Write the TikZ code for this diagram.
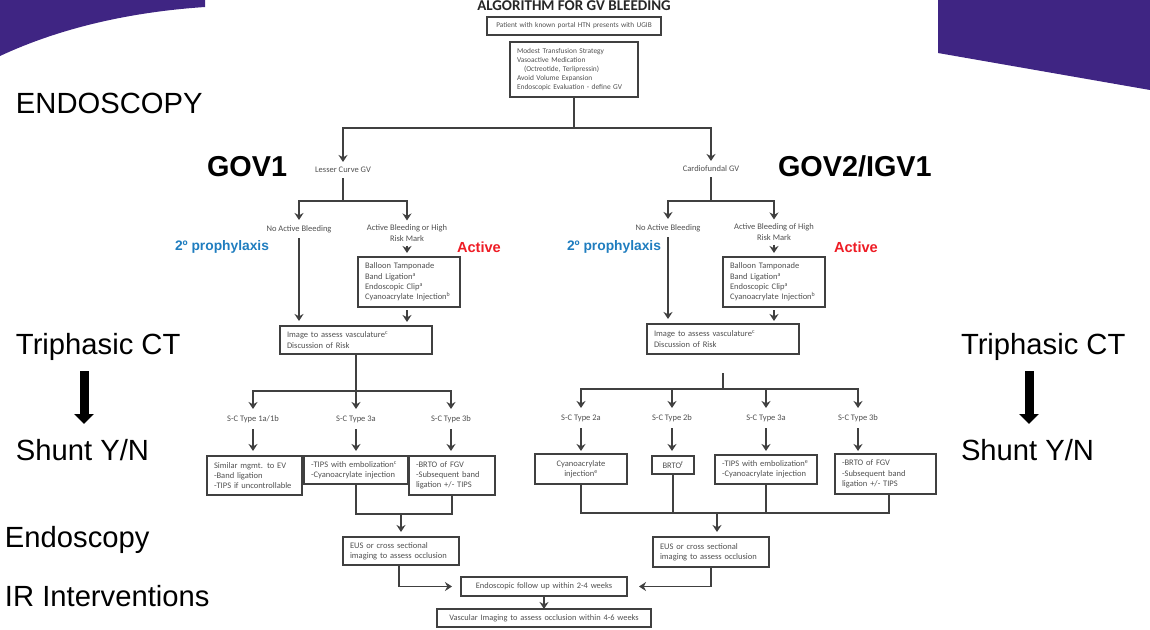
\documentclass[tikz,border=0pt]{standalone}
\usepackage{fontspec}
\setmainfont{Carlito}
\newfontfamily\slidefont{Liberation Sans}
\usetikzlibrary{arrows.meta}
\definecolor{purp}{HTML}{3F2583}
\definecolor{ink}{HTML}{505050}
\definecolor{wirec}{HTML}{404040}
\definecolor{bluet}{HTML}{1F7DBF}
\definecolor{redt}{HTML}{EE1C25}
\tikzset{
  bx/.style 2 args={draw=wirec,line width=1.3pt,outer sep=0pt,inner xsep=7pt,inner ysep=0pt,
    minimum width=#1pt,minimum height=#2pt,text width=\dimexpr#1pt-14pt\relax,align=left,
    font=\fontsize{8.5}{10.3}\selectfont,text=ink},
  cbx/.style 2 args={bx={#1}{#2},align=center},
  lb/.style={outer sep=0pt,inner sep=0pt,align=center,minimum height=#1pt,
    font=\fontsize{8.5}{10.3}\selectfont,text=ink},
  lb/.default=18,
  wire/.style={draw=wirec,line width=1.3pt},
  arr/.style={wire,-{Stealth[width=9pt,length=7pt]}},
  big/.style={outer sep=0pt,inner sep=0pt,anchor=west,font=\slidefont\fontsize{29.2}{32}\selectfont,text=black},
  bigb/.style={outer sep=0pt,inner sep=0pt,anchor=west,font=\slidefont\bfseries\fontsize{28.8}{32}\selectfont,text=black},
  tag/.style={outer sep=0pt,inner sep=0pt,anchor=west,font=\slidefont\bfseries\fontsize{13.8}{15}\selectfont},
  tagred/.style={outer sep=0pt,inner sep=0pt,anchor=west,text=redt,font=\slidefont\bfseries\fontsize{14.6}{16}\selectfont},
  thick arrow/.style={draw=black,line width=9pt,-{Triangle[width=19pt,length=10pt]}}
}
\begin{document}
\begin{tikzpicture}[x=1pt,y=-1pt]
\useasboundingbox (0,0) rectangle (1150,629);
% banner shapes
\fill[purp] (0,0) -- (205,0) -- (205,7) .. controls (130,12) and (60,28) .. (0,56) -- cycle;
\fill[purp] (938,0) -- (1150,0) -- (1150,90) -- (938,53) -- cycle;
% slide labels
\node[big] (endo) at (16,103) {ENDOSCOPY};
\node[bigb] (gov1) at (207,167) {GOV1};
\node[bigb] (gov2) at (778,166) {GOV2/IGV1};
\node[big] (triL) at (16,347) {Triphasic CT};
\node[big] (triR) at (961,347) {Triphasic CT};
\node[big] (shuL) at (16,450) {Shunt Y/N};
\node[big] (shuR) at (961,450) {Shunt Y/N};
\node[big] (endo2) at (5,540) {Endoscopy};
\node[big] (irint) at (5,596) {IR Interventions};
\node[tag,text=bluet] (proL) at (175,247) {2º prophylaxis};
\node[tag,text=bluet] (proR) at (567,247) {2º prophylaxis};
\node[tagred] (actL) at (457,247) {Active};
\node[tagred] (actR) at (834,247) {Active};
\coordinate (thLa) at (84,371); \coordinate (thLb) at (84,424);
\coordinate (thRa) at (1029,371); \coordinate (thRb) at (1029,424);
\draw[thick arrow] (thLa) -- (thLb);
\draw[thick arrow] (thRa) -- (thRb);
% title and top
\node[outer sep=0pt,inner sep=0pt,font=\bfseries\fontsize{15}{16}\selectfont,text=black!85] (title) at (574,6) {ALGORITHM FOR GV BLEEDING};
\node[cbx={174}{18},font=\fontsize{7.3}{10.3}\selectfont] (pat) at (574,26) {Patient with known portal HTN presents with UGIB};
\node[bx={128}{55},font=\fontsize{7.4}{9}\selectfont] (init) at (574,69.5) {Modest Transfusion Strategy\\Vasoactive Medication\\\hspace*{7pt}(Octreotide, Terlipressin)\\Avoid Volume Expansion\\Endoscopic Evaluation - define GV};
\node[lb=16] (lesser) at (343,170) {Lesser Curve GV};
\node[lb=16] (cardio) at (711,169) {Cardiofundal GV};
% left branch
\node[lb=18] (noL) at (299,229) {No Active Bleeding};
\node[lb=25] (acL) at (407,233) {Active Bleeding or High\\Risk Mark};
\node[bx={102}{50}] (trtL) at (409,282) {Balloon Tamponade\\Band Ligation\textsuperscript{a}\\Endoscopic Clip\textsuperscript{a}\\Cyanoacrylate Injection\textsuperscript{b}};
\node[bx={152}{28}] (imgL) at (356,340) {Image to assess vasculature\textsuperscript{c}\\Discussion of Risk};
\node[lb=20] (sL1) at (253,419) {S-C Type 1a/1b};
\node[lb=20] (sL2) at (356,419) {S-C Type 3a};
\node[lb=20] (sL3) at (451,419) {S-C Type 3b};
\node[bx={95}{39}] (mL1) at (254.5,475.5) {Similar mgmt. to EV\\-Band ligation\\-TIPS if uncontrollable};
\node[bx={104}{28}] (mL2) at (356,470) {-TIPS with embolization\textsuperscript{c}\\-Cyanoacrylate injection};
\node[bx={86}{39}] (mL3) at (452,475.5) {-BRTO of FGV\\-Subsequent band\\ligation +/- TIPS};
\node[bx={116}{28}] (eusL) at (401,551) {EUS or cross sectional\\imaging to assess occlusion};
% right branch
\node[lb=18] (noR) at (668,228) {No Active Bleeding};
\node[lb=25] (acR) at (774,232) {Active Bleeding of High\\Risk Mark};
\node[bx={102}{50}] (trtR) at (774,282) {Balloon Tamponade\\Band Ligation\textsuperscript{a}\\Endoscopic Clip\textsuperscript{a}\\Cyanoacrylate Injection\textsuperscript{b}};
\node[bx={152}{30}] (imgR) at (723,339) {Image to assess vasculature\textsuperscript{c}\\Discussion of Risk};
\node[lb=20] (sR1) at (581,418) {S-C Type 2a};
\node[lb=20] (sR2) at (672,418) {S-C Type 2b};
\node[lb=20] (sR3) at (766,418) {S-C Type 3a};
\node[lb=20] (sR4) at (858,418) {S-C Type 3b};
\node[cbx={92}{30}] (mR1) at (581,469) {Cyanoacrylate\\injection\textsuperscript{e}};
\node[cbx={42}{18}] (mR2) at (673,465) {BRTO\textsuperscript{f}};
\node[bx={102}{29}] (mR3) at (766,469.5) {-TIPS with embolization\textsuperscript{e}\\-Cyanoacrylate injection};
\node[bx={101}{40}] (mR4) at (885.5,474) {-BRTO of FGV\\-Subsequent band\\ligation +/- TIPS};
\node[bx={116}{30}] (eusR) at (711,552) {EUS or cross sectional\\imaging to assess occlusion};
% bottom
\node[cbx={166}{19},font=\fontsize{8.4}{10.3}\selectfont] (follow) at (544,586.5) {Endoscopic follow up within 2-4 weeks};
\node[cbx={214}{18},font=\fontsize{8.4}{10.3}\selectfont] (vasc) at (544,618) {Vascular Imaging to assess occlusion within 4-6 weeks};
% junctions
\coordinate (busTop) at (574,128);
\coordinate (busGL) at (343,201);
\coordinate (busGR) at (711,201);
\coordinate (busSL) at (356,391);
\coordinate (stubR) at (723,373);
\coordinate (busSR) at (723,389);
\coordinate (mergeL) at (401,514);
\coordinate (mergeR) at (717,513);
% connectors
\draw[wire] (init.south) -- (busTop);
\draw[arr] (busTop) -| (lesser.north);
\draw[arr] (busTop) -| (cardio.north);
\draw[wire] (lesser.south) -- (busGL);
\draw[arr] (busGL) -| (noL.north);
\draw[arr] (busGL) -| (acL.north);
\draw[wire] (cardio.south) -- (busGR);
\draw[arr] (busGR) -| (noR.north);
\draw[arr] (busGR) -| (acR.north);
\draw[arr,shorten >=5pt] (noL.south) -- (noL.south |- imgL.north);
\draw[arr,shorten >=5pt] (noR.south) -- (noR.south |- imgR.north);
\draw[arr,shorten >=4pt] (acL.south) -- (acL.south |- trtL.north);
\draw[arr,shorten >=4pt] (acR.south) -- (acR.south |- trtR.north);
\draw[arr,shorten <=3pt,shorten >=4pt] (acL |- trtL.south) -- (acL |- imgL.north);
\draw[arr,shorten <=3pt,shorten >=3pt] (acR |- trtR.south) -- (acR |- imgR.north);
\draw[wire] (imgL.south) -- (busSL);
\draw[arr] (busSL) -- (sL2.north);
\draw[arr] (busSL) -| (sL1.north);
\draw[arr] (busSL) -| (sL3.north);
\draw[arr,shorten >=5pt] (sL1.south) -- (sL1.south |- mL1.north);
\draw[arr,shorten >=5pt] (sL2.south) -- (sL2.south |- mL2.north);
\draw[arr,shorten >=5pt] (sL3.south) -- (sL3.south |- mL3.north);
\draw[wire] (stubR) -- (busSR);
\draw[arr] (busSR) -| (sR1.north);
\draw[arr] (busSR) -| (sR2.north);
\draw[arr] (busSR) -| (sR3.north);
\draw[arr] (busSR) -| (sR4.north);
\draw[arr,shorten >=3pt] (sR1.south) -- (sR1.south |- mR1.north);
\draw[arr,shorten >=5pt] (sR2.south) -- (sR2.south |- mR2.north);
\draw[arr,shorten >=4pt] (sR3.south) -- (sR3.south |- mR3.north);
\draw[arr,shorten >=3pt] (sR4.south) -- (sR4.south |- mR4.north);
\draw[wire] (mL2.south) |- (mergeL);
\draw[wire] (mL3.south) |- (mergeL);
\draw[arr,shorten >=5pt] (mergeL) -- (mergeL |- eusL.north);
\draw[wire] (mR1.south) |- (mergeR);
\draw[wire] (mR2.south) |- (mergeR);
\draw[wire] (mR3.south) |- (mergeR);
\draw[wire] ([xshift=3.5pt]mR4.south) |- (mergeR);
\draw[arr,shorten >=5pt] (mergeR) -- (mergeR |- eusR.north);
\draw[arr,shorten >=9pt] ([xshift=-2pt]eusL.south) |- (follow.west);
\draw[arr,shorten >=12pt] (eusR.south) |- (follow.east);
\draw[arr] (follow.south) -- (vasc.north);
\end{tikzpicture}
\end{document}
